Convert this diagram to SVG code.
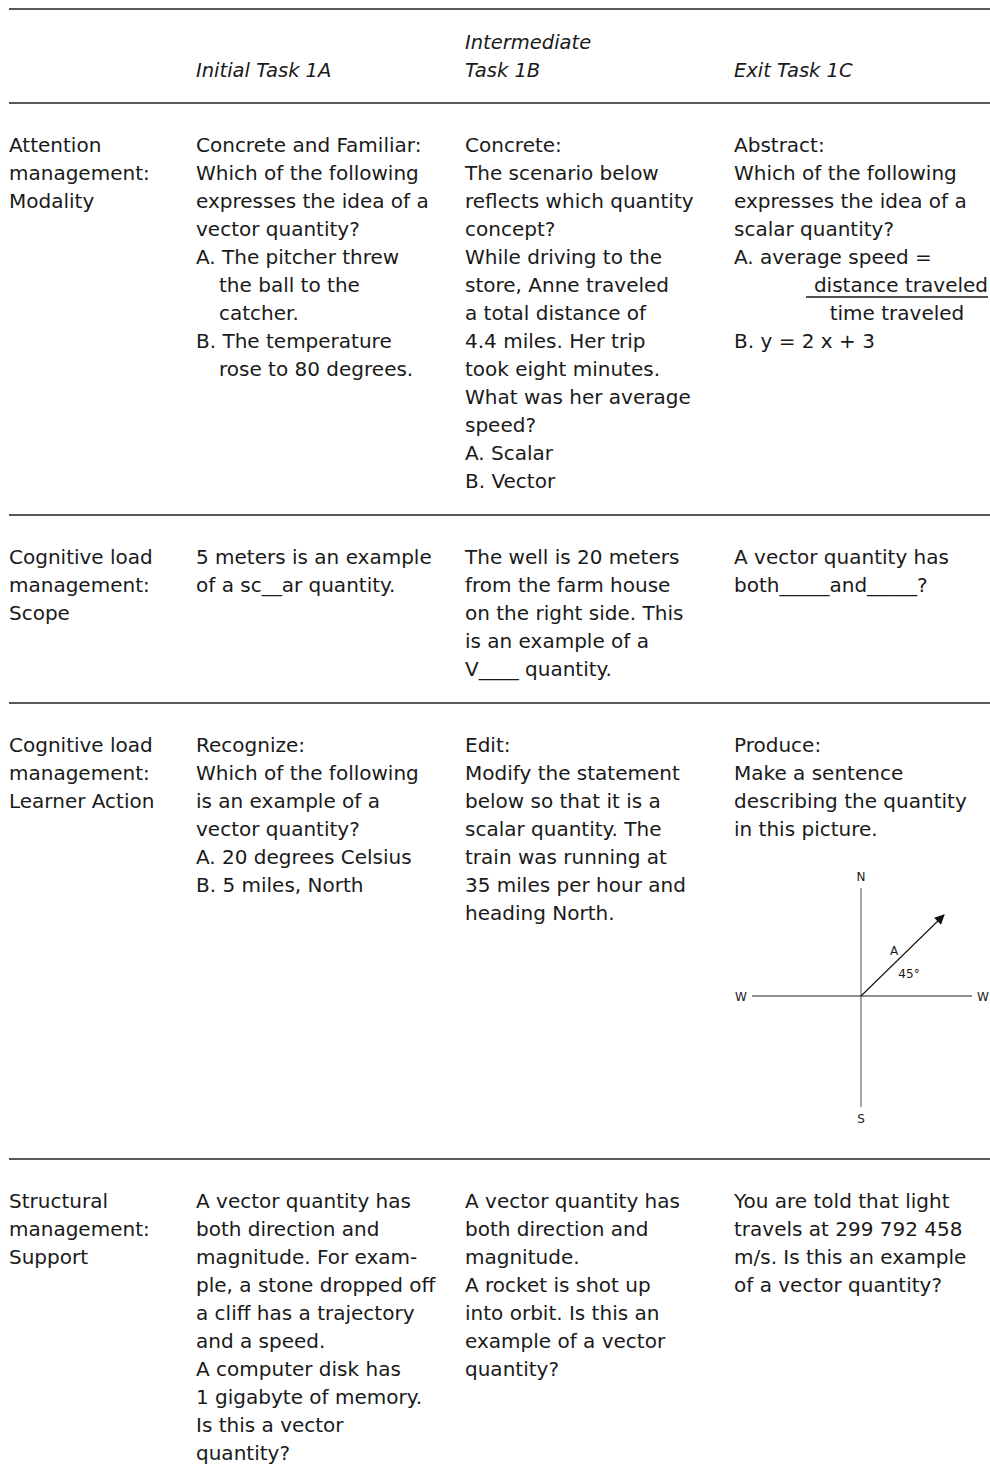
<svg xmlns="http://www.w3.org/2000/svg" width="990" height="1467" viewBox="0 0 990 1467">
<style>
text{font-family:"DejaVu Sans","Liberation Sans",sans-serif;font-size:20px;fill:#1a1a1a}
.h{font-style:italic;font-size:19.5px}
.rule{stroke:#222;stroke-width:1.5}
.sm{font-size:12px}
</style>
<defs>
<marker id="ah" viewBox="0 0 10 10" refX="9" refY="5" markerWidth="11" markerHeight="10" orient="auto" markerUnits="userSpaceOnUse"><path d="M0,0 L10,5 L0,10 z" fill="#111"/></marker>
</defs>
<g id="rules">
<line class="rule" x1="9" y1="9" x2="990" y2="9"/>
<line class="rule" x1="9" y1="103" x2="990" y2="103"/>
<line class="rule" x1="9" y1="515" x2="990" y2="515"/>
<line class="rule" x1="9" y1="703" x2="990" y2="703"/>
<line class="rule" x1="9" y1="1159" x2="990" y2="1159"/>
</g>
<g id="header">
<text class="h" x="196" y="77">Initial Task 1A</text>
<text class="h" x="465" y="49">Intermediate</text>
<text class="h" x="465" y="77">Task 1B</text>
<text class="h" x="734" y="77">Exit Task 1C</text>
</g>
<g id="row1">
<text x="9" y="152">Attention</text>
<text x="9" y="180">management:</text>
<text x="9" y="208">Modality</text>
<text x="196" y="152">Concrete and Familiar:</text>
<text x="196" y="180">Which of the following</text>
<text x="196" y="208">expresses the idea of a</text>
<text x="196" y="236">vector quantity?</text>
<text x="196" y="264">A. The pitcher threw</text>
<text x="219" y="292">the ball to the</text>
<text x="219" y="320">catcher.</text>
<text x="196" y="348">B. The temperature</text>
<text x="219" y="376">rose to 80 degrees.</text>
<text x="465" y="152">Concrete:</text>
<text x="465" y="180">The scenario below</text>
<text x="465" y="208">reflects which quantity</text>
<text x="465" y="236">concept?</text>
<text x="465" y="264">While driving to the</text>
<text x="465" y="292">store, Anne traveled</text>
<text x="465" y="320">a total distance of</text>
<text x="465" y="348">4.4 miles. Her trip</text>
<text x="465" y="376">took eight minutes.</text>
<text x="465" y="404">What was her average</text>
<text x="465" y="432">speed?</text>
<text x="465" y="460">A. Scalar</text>
<text x="465" y="488">B. Vector</text>
<text x="734" y="152">Abstract:</text>
<text x="734" y="180">Which of the following</text>
<text x="734" y="208">expresses the idea of a</text>
<text x="734" y="236">scalar quantity?</text>
<text x="734" y="264">A. average speed =</text>
<text x="988" y="292" text-anchor="end">distance traveled</text>
<line x1="806" y1="297" x2="988" y2="297" stroke="#1a1a1a" stroke-width="1.3"/>
<text x="897" y="320" text-anchor="middle">time traveled</text>
<text x="734" y="348">B. y = 2 x + 3</text>
</g>
<g id="row2">
<text x="9" y="564">Cognitive load</text>
<text x="9" y="592">management:</text>
<text x="9" y="620">Scope</text>
<text x="196" y="564">5 meters is an example</text>
<text x="196" y="592">of a sc__ar quantity.</text>
<text x="465" y="564">The well is 20 meters</text>
<text x="465" y="592">from the farm house</text>
<text x="465" y="620">on the right side. This</text>
<text x="465" y="648">is an example of a</text>
<text x="465" y="676">V____ quantity.</text>
<text x="734" y="564">A vector quantity has</text>
<text x="734" y="592">both_____and_____?</text>
</g>
<g id="row3">
<text x="9" y="752">Cognitive load</text>
<text x="9" y="780">management:</text>
<text x="9" y="808">Learner Action</text>
<text x="196" y="752">Recognize:</text>
<text x="196" y="780">Which of the following</text>
<text x="196" y="808">is an example of a</text>
<text x="196" y="836">vector quantity?</text>
<text x="196" y="864">A. 20 degrees Celsius</text>
<text x="196" y="892">B. 5 miles, North</text>
<text x="465" y="752">Edit:</text>
<text x="465" y="780">Modify the statement</text>
<text x="465" y="808">below so that it is a</text>
<text x="465" y="836">scalar quantity. The</text>
<text x="465" y="864">train was running at</text>
<text x="465" y="892">35 miles per hour and</text>
<text x="465" y="920">heading North.</text>
<text x="734" y="752">Produce:</text>
<text x="734" y="780">Make a sentence</text>
<text x="734" y="808">describing the quantity</text>
<text x="734" y="836">in this picture.</text>
</g>
<g id="compass">
<line x1="861" y1="888" x2="861" y2="1107" stroke="#777" stroke-width="1.3"/>
<line x1="752" y1="996" x2="972" y2="996" stroke="#222" stroke-width="1.2"/>
<line x1="861" y1="996" x2="944" y2="915" stroke="#111" stroke-width="1.1" marker-end="url(#ah)"/>
<text class="sm" x="861" y="881" text-anchor="middle">N</text>
<text class="sm" x="861" y="1123" text-anchor="middle">S</text>
<text class="sm" x="741" y="1001" text-anchor="middle">W</text>
<text class="sm" x="983" y="1001" text-anchor="middle">W</text>
<text class="sm" x="894" y="955" text-anchor="middle">A</text>
<text class="sm" x="909" y="978" text-anchor="middle">45°</text>
</g>
<g id="row4">
<text x="9" y="1208">Structural</text>
<text x="9" y="1236">management:</text>
<text x="9" y="1264">Support</text>
<text x="196" y="1208">A vector quantity has</text>
<text x="196" y="1236">both direction and</text>
<text x="196" y="1264">magnitude. For exam-</text>
<text x="196" y="1292">ple, a stone dropped off</text>
<text x="196" y="1320">a cliff has a trajectory</text>
<text x="196" y="1348">and a speed.</text>
<text x="196" y="1376">A computer disk has</text>
<text x="196" y="1404">1 gigabyte of memory.</text>
<text x="196" y="1432">Is this a vector</text>
<text x="196" y="1460">quantity?</text>
<text x="465" y="1208">A vector quantity has</text>
<text x="465" y="1236">both direction and</text>
<text x="465" y="1264">magnitude.</text>
<text x="465" y="1292">A rocket is shot up</text>
<text x="465" y="1320">into orbit. Is this an</text>
<text x="465" y="1348">example of a vector</text>
<text x="465" y="1376">quantity?</text>
<text x="734" y="1208">You are told that light</text>
<text x="734" y="1236">travels at 299 792 458</text>
<text x="734" y="1264">m/s. Is this an example</text>
<text x="734" y="1292">of a vector quantity?</text>
</g>
</svg>
